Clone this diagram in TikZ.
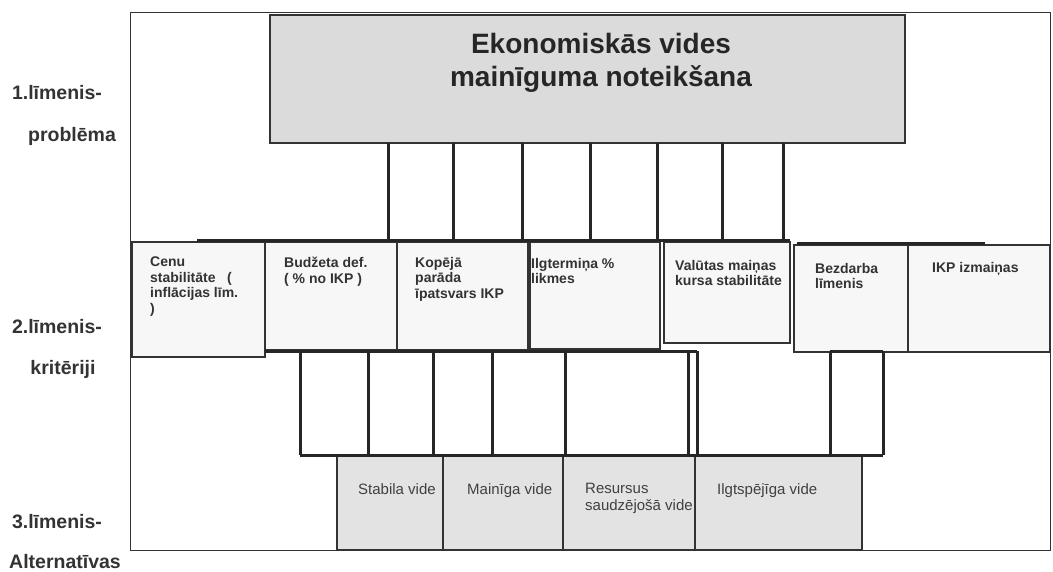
\documentclass[tikz,border=0pt]{standalone}
\usepackage{fontspec}
\setmainfont{Liberation Sans}
\begin{document}
\begin{tikzpicture}[x=1pt,y=-1pt,
  frame/.style={draw=black!80, line width=1pt, anchor=north west, inner sep=0pt, outer sep=0pt},
  box/.style={draw=black!80, line width=1.2pt, anchor=north west, inner sep=0pt, outer sep=0pt},
  conn/.style={draw=black!85, line width=3pt},
  lvl/.style={font=\fontsize{19.5}{22}\selectfont\bfseries, text=black!80, inner sep=0pt},
  crit/.style={anchor=north west, align=left, inner sep=0pt, font=\fontsize{14}{15.5}\selectfont\bfseries, text=black!80},
  alt/.style={anchor=north west, align=left, inner sep=0pt, font=\fontsize{15}{17}\selectfont, text=black!75},
]
\useasboundingbox (0,0) rectangle (1053,572);
\fill[white] (0,0) rectangle (1053,572);

% outer frame
\node[frame, minimum width=920pt, minimum height=537pt] (outer) at (130,13) {};

% level 1 problem
\node[box, fill=black!14, minimum width=635pt, minimum height=128pt] (top) at (270,15) {};
\node[font=\fontsize{28}{33}\selectfont\bfseries, text=black!85, align=center, inner sep=0pt] (title) at (601,63) {Ekonomiskās vides\\mainīguma noteikšana};

% level 2 criteria
\node[box, fill=black!3, minimum width=133pt, minimum height=115pt] (b1) at (132,242) {};
\node[box, fill=black!3, minimum width=132pt, minimum height=108pt] (b2) at (265,242) {};
\node[box, fill=black!3, minimum width=131pt, minimum height=108pt] (b3) at (397,242) {};
\node[box, fill=black!3, minimum width=130pt, minimum height=107pt] (b4) at (530,242) {};
\node[box, fill=black!3, minimum width=126pt, minimum height=101pt] (b5) at (664,242) {};
\node[box, fill=black!3, minimum width=114pt, minimum height=107pt] (b6) at (794,245) {};
\node[box, fill=black!3, minimum width=142pt, minimum height=107pt] (b7) at (908,245) {};

\node[crit] (t1) at (150,257) {Cenu\\stabilitāte \ \ (\\inflācijas līm.\\)};
\node[crit] (t2) at (284,257) {Budžeta def.\\( \% no IKP )};
\node[crit] (t3) at (415,257) {Kopējā\\parāda\\īpatsvars IKP};
\node[crit] (t4) at (531,258) {Ilgtermiņa \%\\likmes};
\node[crit] (t5) at (675,260) {Valūtas maiņas\\kursa stabilitāte};
\node[crit] (t6) at (815,263) {Bezdarba\\līmenis};
\node[crit] (t7) at (932,262) {IKP izmaiņas};

% level 3 alternatives
\node[box, fill=black!11, minimum width=106pt, minimum height=95pt] (a1) at (337,455) {};
\node[box, fill=black!11, minimum width=120pt, minimum height=95pt] (a2) at (443,455) {};
\node[box, fill=black!11, minimum width=132pt, minimum height=95pt] (a3) at (563,455) {};
\node[box, fill=black!11, minimum width=167pt, minimum height=95pt] (a4) at (695,455) {};

\node[alt] (s1) at (358,483) {Stabila vide};
\node[alt] (s2) at (467,483) {Mainīga vide};
\node[alt] (s3) at (585,483) {Resursus\\saudzējošā vide};
\node[alt] (s4) at (717,483) {Ilgtspējīga vide};

% connectors level 1 -> level 2
\foreach \i/\x in {1/388,2/453,3/522,4/590,5/657,6/722,7/783} {
  \coordinate (u\i) at (\x,241);
  \draw[conn] (top.south -| u\i) -- (u\i);
}
\coordinate (hL) at (197,241);
\coordinate (hR) at (790,241);
\draw[conn] (hL) -- (hR);
\coordinate (hL2) at (797,244);
\coordinate (hR2) at (985,244);
\draw[conn] (hL2) -- (hR2);

% connectors level 2 -> level 3
\foreach \i/\x in {1/300,2/368,3/433,4/492,5/565,6/688,7/697,8/830,9/883} {
  \coordinate (v\i) at (\x,351);
  \draw[conn] (v\i) -- (a1.north -| v\i);
}
\coordinate (w0) at (265,351);
\draw[conn] (w0) -- (v7);
\draw[conn] (v8) -- (v9);
\draw[conn] (a1.north -| v1) -- (a1.north -| v9);

% level labels
\node[lvl] (l1a) at (57,93) {1.līmenis-};
\node[lvl] (l1b) at (72,136) {problēma};
\node[lvl] (l2a) at (57,327) {2.līmenis-};
\node[lvl] (l2b) at (63,369) {kritēriji};
\node[lvl] (l3a) at (57,522) {3.līmenis-};
\node[lvl] (l3b) at (65,562) {Alternatīvas};
\end{tikzpicture}
\end{document}
